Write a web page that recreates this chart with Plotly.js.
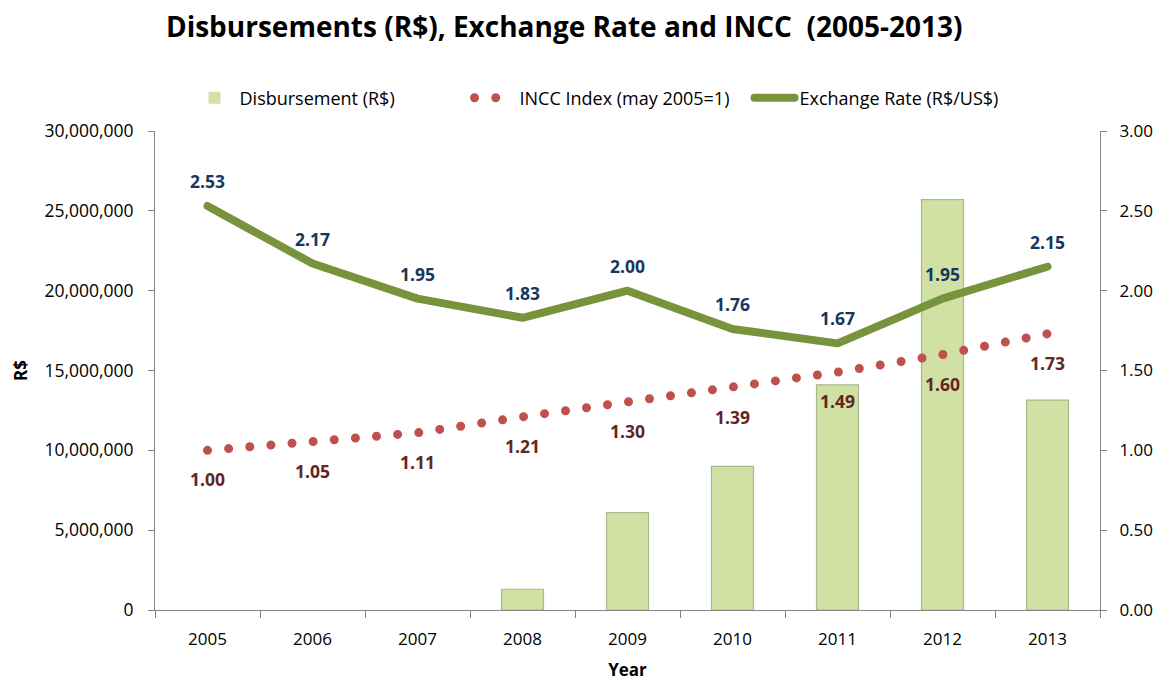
<!DOCTYPE html>
<html>
<head>
<meta charset="utf-8">
<script src="https://cdn.plot.ly/plotly-3.0.1.min.js"></script>
<style>
html,body{margin:0;padding:0;background:#fff;}
#chart{width:1161px;height:681px;}
.js-plotly-plot .scatterlayer path.js-line{stroke-linecap:round;stroke-linejoin:round;}
.js-plotly-plot .legendlines path{stroke-linecap:round;}
</style>
</head>
<body>
<div id="chart"></div>
<script>
const years = ['2005','2006','2007','2008','2009','2010','2011','2012','2013'];
const disbursement = [0, 0, 0, 1300000, 6100000, 9000000, 14100000, 25700000, 13150000];
const incc = [1.00, 1.05, 1.11, 1.21, 1.30, 1.39, 1.49, 1.60, 1.73];
const exchangeRate = [2.53, 2.17, 1.95, 1.83, 2.00, 1.76, 1.67, 1.95, 2.15];

const FONT = '"Open Sans", Lato, sans-serif';

const traces = [
  {
    type: 'bar', name: 'Disbursement (R$)', x: years, y: disbursement,
    width: 0.4,
    marker: {color: '#D0E1A3', line: {color: '#A9B98F', width: disbursement.map(v => v > 0 ? 1.2 : 0)}},
    hoverinfo: 'skip'
  },
  {
    type: 'scatter', mode: 'lines', name: 'INCC Index (may 2005=1)', x: years, y: incc,
    yaxis: 'y2',
    line: {color: '#C0504D', width: 9, dash: '0px,21.2px'},
    hoverinfo: 'skip'
  },
  {
    type: 'scatter', mode: 'lines', name: 'Exchange Rate (R$/US$)', x: years, y: exchangeRate,
    yaxis: 'y2',
    line: {color: '#77933C', width: 8},
    hoverinfo: 'skip'
  }
];

const annotations = [];
years.forEach((yr, i) => {
  annotations.push({
    x: i, y: exchangeRate[i], xref: 'x', yref: 'y2', yshift: 25,
    text: '<b>' + exchangeRate[i].toFixed(2) + '</b>', showarrow: false,
    font: {family: FONT, size: 17.5, color: '#17375E'}
  });
  annotations.push({
    x: i, y: incc[i], xref: 'x', yref: 'y2', yshift: -29,
    text: '<b>' + incc[i].toFixed(2) + '</b>', showarrow: false,
    font: {family: FONT, size: 17.5, color: '#632523'}
  });
});

const layout = {
  width: 1161, height: 681,
  margin: {l: 155, r: 61, t: 131, b: 71},
  paper_bgcolor: '#fff', plot_bgcolor: '#fff',
  font: {family: FONT, size: 17, color: '#000'},
  title: {
    text: '<b>Disbursements (R$), Exchange Rate and INCC  (2005-2013)</b>',
    font: {family: FONT, size: 28, color: '#000'},
    x: 0.486, xref: 'container', xanchor: 'center',
    y: 0.96, yref: 'container', yanchor: 'middle'
  },
  showlegend: true,
  legend: {
    orientation: 'h', x: 0.525, xref: 'container', xanchor: 'center',
    y: 0.856, yref: 'container', yanchor: 'middle',
    font: {family: FONT, size: 18, color: '#000'},
    traceorder: 'normal', itemwidth: 40,
    entrywidth: 225, entrywidthmode: 'pixels'
  },
  xaxis: {
    type: 'category', showgrid: false, zeroline: false, automargin: false,
    showline: true, linecolor: '#868686', linewidth: 1,
    ticks: 'outside', tickson: 'boundaries', ticklen: 7, tickcolor: '#868686',
    tickfont: {family: FONT, size: 17}, ticklabelstandoff: 14,
    title: {text: '<b>Year</b>', font: {family: FONT, size: 17}, standoff: 19}
  },
  yaxis: {
    range: [0, 30000000], dtick: 5000000, tickformat: ',d', automargin: false,
    showgrid: false, zeroline: false,
    showline: true, linecolor: '#868686', linewidth: 1,
    ticks: 'outside', ticklen: 6, tickcolor: '#868686',
    tickfont: {family: FONT, size: 17.5}, ticklabelstandoff: 11,
    title: {text: '<b>R$</b>', font: {family: FONT, size: 17}, standoff: 12}
  },
  yaxis2: {
    range: [0, 3], dtick: 0.5, tickformat: '.2f', automargin: false,
    overlaying: 'y', side: 'right',
    showgrid: false, zeroline: false,
    showline: true, linecolor: '#868686', linewidth: 1,
    ticks: 'outside', ticklen: 6, tickcolor: '#868686',
    tickfont: {family: FONT, size: 17}, ticklabelstandoff: 9
  },
  annotations: annotations
};

Plotly.newPlot('chart', traces, layout, {displayModeBar: false, staticPlot: true});
</script>
</body>
</html>
